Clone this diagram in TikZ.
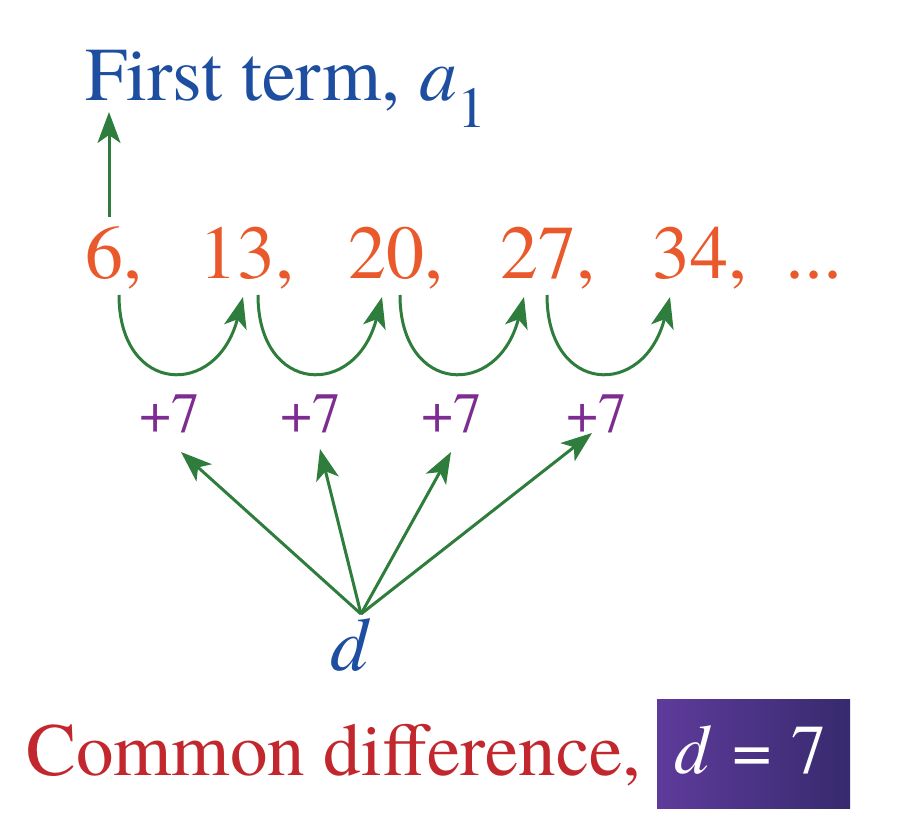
\documentclass[tikz,border=0pt]{standalone}
\usepackage{fontspec}
\IfFontExistsTF{texgyretermes-regular.otf}{%
  \setmainfont{texgyretermes}[Extension=.otf,UprightFont=*-regular,ItalicFont=*-italic,BoldFont=*-bold,BoldItalicFont=*-bolditalic]%
}{%
  \setmainfont{Liberation Serif}%
}
\usetikzlibrary{arrows.meta,calc}
\definecolor{tblue}{HTML}{1D4E9F}
\definecolor{torange}{HTML}{E9592B}
\definecolor{tgreen}{HTML}{2E7D3C}
\definecolor{tpurple}{HTML}{7D2C90}
\definecolor{tred}{HTML}{C1272D}
\definecolor{boxl}{HTML}{5E3B9B}
\definecolor{boxr}{HTML}{372A6E}
\begin{document}
\begin{tikzpicture}[x=1pt,y=-1pt,
  txt/.style={inner sep=0pt, outer sep=0pt, anchor=base west},
  big/.style={font=\fontsize{76}{80}\selectfont},
  num/.style={txt,big,text=torange},
  plus/.style={inner sep=0pt, outer sep=0pt, anchor=base, text=tpurple, font=\fontsize{57}{60}\selectfont},
  tip/.style={-{Stealth[length=31pt,width=23pt,inset=8pt]}},
  arcarrow/.style={draw=tgreen, line width=3pt, tip},
  ray/.style={draw=tgreen, line width=3pt, tip},
  valbox/.style={inner sep=0pt, outer sep=0pt, minimum width=193pt, minimum height=109pt,
    left color=boxl, right color=boxr, text=white, font=\fontsize{70}{72}\selectfont,
    text height=48pt, text depth=9pt},
]
\useasboundingbox (0,0) rectangle (900,835);

% title
\node[txt,big,text=tblue] (title) at (85,100)
  {First term, \textit{a}\raisebox{-27pt}{\fontsize{58}{60}\selectfont 1}};

% sequence
\node[num] (n1) at (85,278) {6,};
\node[num] (n2) at (199,278) {13,};
\node[num] (n3) at (348,278) {20,};
\node[num] (n4) at (500,278) {27,};
\node[num] (n5) at (652,278) {34,};
\node[num] (n6) at (785,278) {...};

% arrow to first term
\coordinate (up0) at (109,217);
\coordinate (up1) at (109,112);
\draw[ray] (up0) -- (up1);

% arcs
\coordinate (s1) at (119,295); \coordinate (t1) at (243,297);
\coordinate (s2) at (258,295); \coordinate (t2) at (382,297);
\coordinate (s3) at (400,295); \coordinate (t3) at (524,297);
\coordinate (s4) at (547,295); \coordinate (t4) at (670,297);
\foreach \i in {1,2,3,4}{
  \draw[arcarrow] (s\i) .. controls ($(s\i)+(0,100)$) and ($(t\i)+(-26,102)$) .. (t\i);
}

% +7 labels
\node[plus] (p1) at (170,432) {+7};
\node[plus] (p2) at (311,432) {+7};
\node[plus] (p3) at (452,432) {+7};
\node[plus] (p4) at (597,432) {+7};

% d and rays
\node[txt,big,text=tblue] (d) at (330,670) {\textit{d}};
\coordinate (dsrc) at (361,614);
\coordinate (r1) at (181,452);
\coordinate (r2) at (320,449);
\coordinate (r3) at (451,452);
\coordinate (r4) at (592,433);
\foreach \i in {1,2,3,4}{
  \draw[ray] (dsrc) -- (r\i);
}

% bottom line
\node[txt,text=tred,font=\fontsize{75}{78}\selectfont] (cd) at (26,775) {Common difference,};
\node[valbox] (dbox) at (753.5,753.5) {\hspace*{-6pt}\textit{d}\hspace{21pt}=\hspace{19pt}7};
\end{tikzpicture}
\end{document}
